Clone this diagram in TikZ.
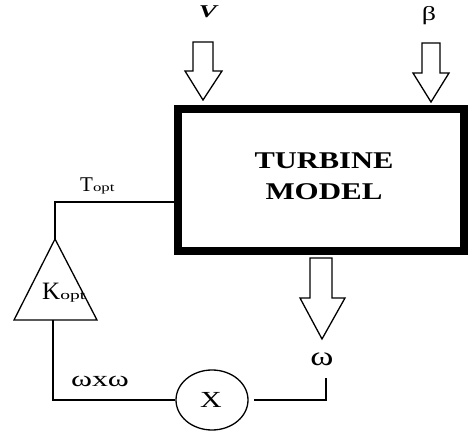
\documentclass[tikz,border=0pt]{standalone}
\usepackage{fontspec}
\setmainfont{Liberation Serif}
\usetikzlibrary{shapes.geometric}
\newcommand{\xs}[2]{\scalebox{#1}[1]{#2}}
\tikzset{
  thin line/.style={line width=1.3pt, black},
  blockarrow/.style={line width=1.3pt, draw=black, fill=white, line join=miter},
  lbl/.style={inner sep=0pt, anchor=center},
}
\begin{document}
\begin{tikzpicture}[x=1pt,y=-1pt]
\useasboundingbox (0,0) rectangle (469,436);
% turbine box
\node[draw, line width=8pt, minimum width=286pt, minimum height=142pt, inner sep=0pt] (box) at (321,180) {};
\node[lbl, align=center, font=\fontsize{24}{31}\selectfont\bfseries] (title) at (324,176)
      {\xs{1.27}{TURBINE}\\\xs{1.29}{MODEL}};
% input arrows
\draw[blockarrow] (193,42) -- (213,42) -- (213,71) -- (222,71) -- (203,100) -- (185,71) -- (193,71) -- cycle;
\draw[blockarrow] (422,43) -- (440,43) -- (440,73) -- (449,73) -- (431,102) -- (413,73) -- (422,73) -- cycle;
\node[lbl, font=\fontsize{18}{20}\selectfont\bfseries\itshape] (vlab) at (208,12) {\xs{1.5}{V}};
\node[lbl, font=\fontsize{20}{22}\selectfont] (blab) at (429,16) {\xs{1.4}{β}};
% output arrow
\draw[blockarrow] (310,258) -- (332,258) -- (332,298) -- (345,298) -- (322,339) -- (300,298) -- (310,298) -- cycle;
\node[lbl, font=\fontsize{27}{29}\selectfont] (wlab) at (322,359) {\xs{1.3}{ω}};
% multiplier
\node[draw, ellipse, thin line, minimum width=72pt, minimum height=60pt, inner sep=0pt] (mult) at (212,400) {};
\node[lbl, font=\fontsize{23}{25}\selectfont] (xlab) at (211,400) {\xs{1.3}{X}};
\coordinate (wbot) at (326,378);
\draw[thin line] (wbot) |- ([xshift=5pt]mult.east);
% gain triangle
\coordinate (kapex) at (55,239);
\coordinate (kbl) at (14,320);
\coordinate (kbr) at (97,320);
\coordinate (kbase) at (53,320);
\draw[thin line, line join=miter] (kapex) -- (kbr) -- (kbl) -- cycle;
\node[inner sep=0pt, anchor=base west, font=\fontsize{25}{27}\selectfont] (klab) at (42,299)
      {K\xs{1.5}{\fontsize{13}{14}\selectfont opt}};
\draw[thin line] (mult.west) -| (kbase);
\node[lbl, font=\fontsize{22}{24}\selectfont] (wxw) at (100,381) {\xs{1.45}{ωxω}};
% feedback to box
\coordinate (tin) at (box.west |- 0,202);
\draw[thin line] (kapex) |- (tin);
\node[inner sep=0pt, anchor=base west, font=\fontsize{21}{23}\selectfont] (tlab) at (80,191)
      {T\xs{1.4}{\fontsize{12}{13}\selectfont opt}};
\end{tikzpicture}
\end{document}
